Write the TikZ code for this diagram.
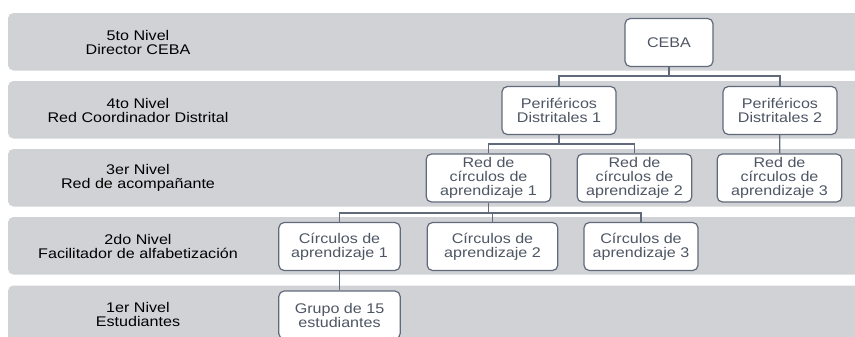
\documentclass[tikz,border=0pt]{standalone}
\usepackage{fontspec}
\setmainfont[FakeStretch=1.15]{Liberation Sans}
\definecolor{bandgray}{RGB}{209,210,214}
\definecolor{boxline}{RGB}{96,106,122}
\definecolor{boxtext}{RGB}{78,86,100}
\def\txt{\fontsize{10.5}{10.5}\selectfont}
\tikzset{
  band/.style={fill=bandgray, rounded corners=4pt},
  lvl/.style={align=center, font=\txt},
  unit/.style={draw=boxline, fill=white, rounded corners=4pt, align=center,
    text=boxtext, line width=0.9pt, inner sep=1pt, minimum height=36pt, font=\txt},
  link/.style={draw=boxline, line width=0.9pt}
}

\begin{document}
\begin{tikzpicture}[x=0.75pt,y=-0.75pt]
  \useasboundingbox (0,0) rectangle (855,336);
  % level bands
  \foreach \t in {13,81,149,217,285.5}
    \fill[band] (8,\t) rectangle (870,\t+57.5);
  % level labels
  \node[lvl] (lv5) at (138,42.5)  {5to Nivel\\Director CEBA};
  \node[lvl] (lv4) at (138,110)   {4to Nivel\\Red Coordinador Distrital};
  \node[lvl] (lv3) at (138,178)   {3er Nivel\\Red de acompañante};
  \node[lvl] (lv2) at (138,246)   {2do Nivel\\Facilitador de alfabetización};
  \node[lvl] (lv1) at (138,314)   {1er Nivel\\Estudiantes};
  % units
  \node[unit, minimum width=66pt]   (ceba)  at (669,42.5)  {CEBA};
  \node[unit, minimum width=85.5pt] (per1)  at (559,110.5) {Periféricos\\Distritales 1};
  \node[unit, minimum width=85.5pt] (per2)  at (780,110.5) {Periféricos\\Distritales 2};
  \node[unit, minimum width=93.5pt] (red1)  at (488.5,178) {Red de\\círculos de\\aprendizaje 1};
  \node[unit, minimum width=86pt]   (red2)  at (634.5,178) {Red de\\círculos de\\aprendizaje 2};
  \node[unit, minimum width=93.5pt] (red3)  at (779.5,178) {Red de\\círculos de\\aprendizaje 3};
  \node[unit, minimum width=91pt]   (circ1) at (339.5,246.5) {Círculos de\\aprendizaje 1};
  \node[unit, minimum width=98pt]   (circ2) at (492.5,246.5) {Círculos de\\aprendizaje 2};
  \node[unit, minimum width=85.5pt] (circ3) at (641,246.5)   {Círculos de\\aprendizaje 3};
  \node[unit, minimum width=91pt]   (grupo) at (339.5,315)   {Grupo de 15\\estudiantes};
  % connectors
  \coordinate (bus5) at (669,76);
  \coordinate (bus4) at (559,144);
  \coordinate (bus3) at (488.5,213);
  \draw[link] (ceba) -- (bus5);
  \draw[link] (bus5) -| (per1);
  \draw[link] (bus5) -| (per2);
  \draw[link] (per1) -- (bus4);
  \draw[link] (bus4) -| (red1);
  \draw[link] (bus4) -| (red2);
  \draw[link] (per2) -- (red3);
  \draw[link] (red1) -- (bus3);
  \draw[link] (bus3) -| (circ1);
  \draw[link] (bus3) -| (circ2);
  \draw[link] (bus3) -| (circ3);
  \draw[link] (circ1) -- (grupo);
\end{tikzpicture}
\end{document}
